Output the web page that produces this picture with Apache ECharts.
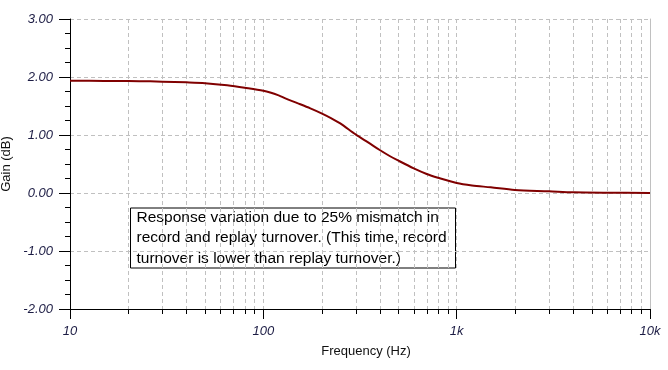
<!DOCTYPE html>
<html>
<head>
<meta charset="utf-8">
<script src="https://cdn.jsdelivr.net/npm/echarts@6/dist/echarts.min.js"></script>
<style>
html,body{margin:0;padding:0;background:#fff;}
#chart{width:668px;height:370px;}
</style>
</head>
<body>
<div id="chart"></div>
<script>
// Data
var freqs = [10, 15, 20, 26, 30, 40, 50, 65, 80, 100, 120, 130, 150, 175, 200, 225, 250, 300, 350, 400, 450, 500, 600, 700, 800, 1000, 1200, 1500, 2000, 3000, 4000, 6000, 10000];
var gains = [1.936, 1.933, 1.93, 1.925, 1.92, 1.908, 1.894, 1.858, 1.816, 1.762, 1.684, 1.632, 1.55, 1.46, 1.374, 1.287, 1.2, 1.01, 0.868, 0.741, 0.638, 0.557, 0.425, 0.328, 0.264, 0.172, 0.13, 0.098, 0.052, 0.03, 0.012, 0.005, 0.002];
var minorFreqs = [20, 30, 40, 50, 60, 70, 80, 90, 200, 300, 400, 500, 600, 700, 800, 900, 2000, 3000, 4000, 5000, 6000, 7000, 8000, 9000];
var xTickLabels = {10: '10', 100: '100', 1000: '1k', 10000: '10k'};
var yMin = -2, yMax = 3, yStep = 1;
var xTitle = 'Frequency (Hz)';
var yTitle = 'Gain (dB)';
var noteText = 'Response variation due to 25% mismatch in\nrecord and replay turnover. (This time, record\nturnover is lower than replay turnover.)';

var curve = freqs.map(function (f, i) { return [f, gains[i]]; });
var minorData = minorFreqs.map(function (f) { return [f, 0]; });

var gridColor = '#c0c0c0';
var labelColor = '#1c1c44';
var font = 'Liberation Sans, Arial, sans-serif';

var chart = echarts.init(document.getElementById('chart'));
chart.setOption({
  animation: false,
  backgroundColor: '#ffffff',
  grid: { left: 70, right: 18, top: 19, bottom: 61, containLabel: false, outerBoundsMode: 'none' },
  xAxis: {
    type: 'log', logBase: 10, min: 10, max: 10000,
    name: xTitle, nameLocation: 'middle', nameGap: 36,
    nameTextStyle: { color: '#111', fontSize: 13, fontFamily: font, padding: [0, 0, 0, 12] },
    axisLine: { show: true, onZero: false, lineStyle: { color: '#000', width: 1 } },
    axisTick: { show: true, length: 10, lineStyle: { color: '#000' } },
    axisLabel: {
      color: labelColor, fontSize: 13, fontStyle: 'italic', fontFamily: font, margin: 16,
      formatter: function (v) { return xTickLabels[Math.round(v)] || ''; }
    },
    splitLine: { show: true, lineStyle: { color: gridColor, type: [4, 3], width: 1 } },
    minorTick: { show: false }
  },
  yAxis: [{
    type: 'value', min: yMin, max: yMax, interval: yStep,
    name: yTitle, nameLocation: 'middle', nameGap: 51,
    nameTextStyle: { color: '#111', fontSize: 13, fontFamily: font },
    axisLine: { show: true, onZero: false, lineStyle: { color: '#000', width: 1 } },
    axisTick: { show: true, length: 11, lineStyle: { color: '#000' } },
    minorTick: { show: true, splitNumber: 4, length: 5, lineStyle: { color: '#000' } },
    axisLabel: {
      color: labelColor, fontSize: 13, fontStyle: 'italic', fontFamily: font, margin: 17,
      formatter: function (v) { return v.toFixed(2); }
    },
    splitLine: { show: true, lineStyle: { color: gridColor, type: [4, 3], width: 1 } }
  }, {
    type: 'value', min: yMin, max: yMax, interval: yStep, position: 'right',
    axisLine: { show: true, onZero: false, lineStyle: { color: gridColor, width: 1 } },
    axisTick: { show: false }, axisLabel: { show: false }, splitLine: { show: false }
  }],
  series: [{
    type: 'custom',
    silent: true,
    data: minorData,
    renderItem: function (params, api) {
      var f = api.value(0);
      var top = api.coord([f, yMax]);
      var bot = api.coord([f, yMin]);
      var x = Math.round(top[0]) + 0.5;
      return {
        type: 'group',
        children: [{
          type: 'line',
          shape: { x1: x, y1: top[1], x2: x, y2: bot[1] },
          style: { stroke: gridColor, lineWidth: 1, lineDash: [4, 3] }
        }, {
          type: 'line',
          shape: { x1: x, y1: bot[1], x2: x, y2: bot[1] + 5 },
          style: { stroke: '#000', lineWidth: 1 }
        }]
      };
    },
    z: 1
  }, {
    type: 'line',
    data: curve,
    showSymbol: false,
    smooth: 0.3,
    lineStyle: { color: '#800000', width: 2 },
    itemStyle: { color: '#800000' },
    z: 5
  }],
  graphic: [{
    type: 'group',
    left: 130, top: 207,
    z: 100,
    children: [{
      type: 'rect',
      shape: { x: 0, y: 0, width: 325, height: 60 },
      style: { fill: '#ffffff', stroke: '#000', lineWidth: 1 }
    }, {
      type: 'text',
      x: 6, y: -1,
      style: { text: noteText, fill: '#000', font: '15.5px ' + font, lineHeight: 20.5 }
    }]
  }]
});
</script>
</body>
</html>
